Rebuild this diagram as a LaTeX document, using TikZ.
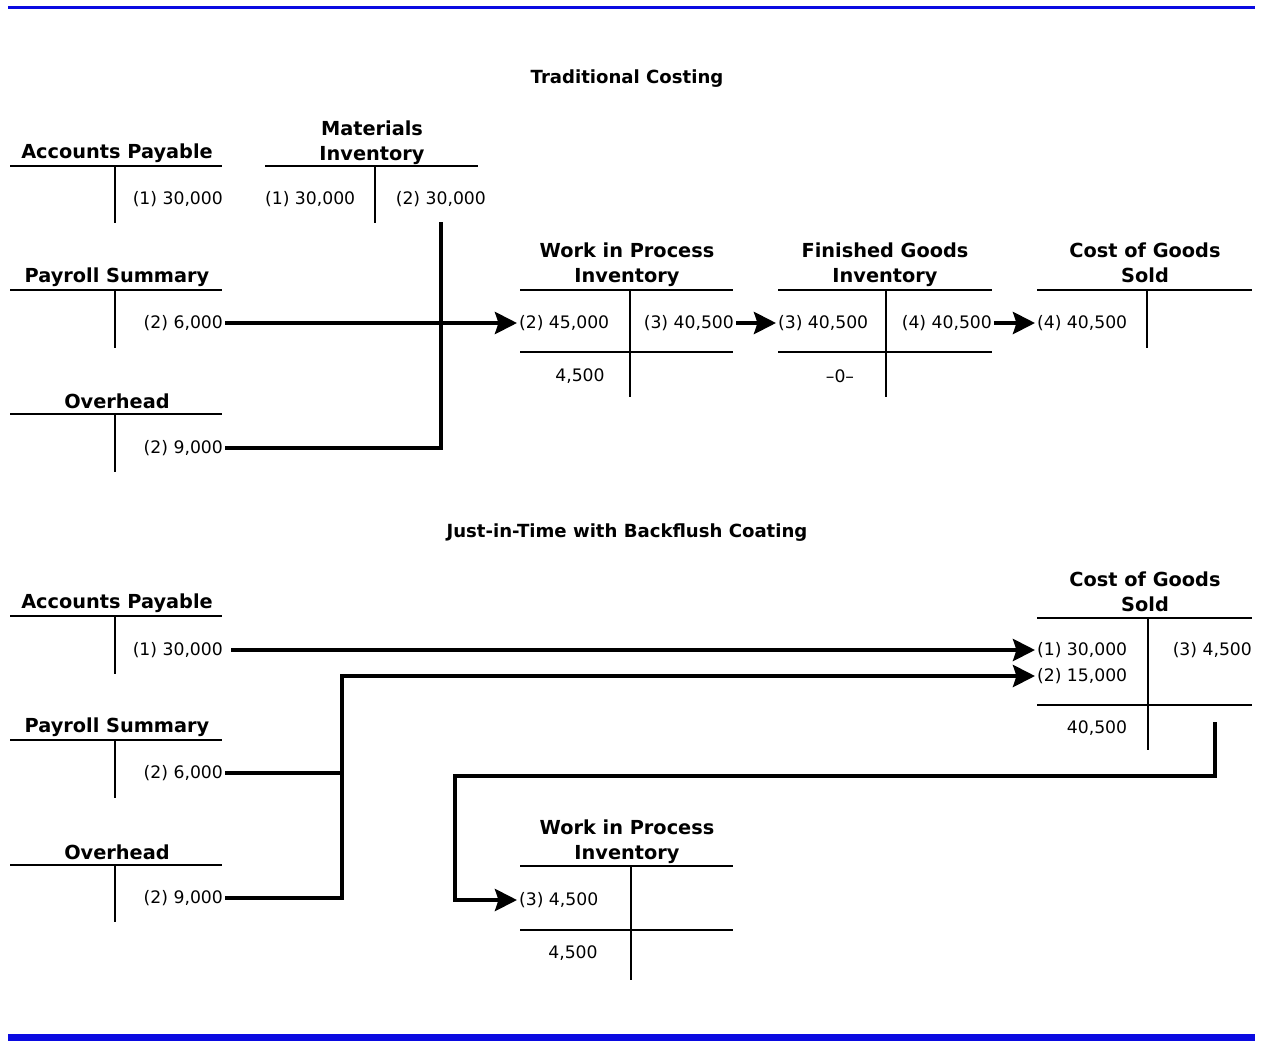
\documentclass[tikz,border=0pt]{standalone}
\usepackage{fontspec}
\setmainfont{DejaVu Sans}
\usetikzlibrary{arrows.meta}
\definecolor{rulebar}{RGB}{10,10,225}

\begin{document}
\begin{tikzpicture}[x=0.02cm,y=-0.02cm]
      \tikzset{head/.style={font=\fontsize{11}{14}\selectfont\bfseries, align=center, inner sep=0pt},
               part/.style={font=\fontsize{10.3}{13}\selectfont\bfseries, inner sep=0pt},
               entry/.style={font=\fontsize{9.8}{12}\selectfont, inner sep=1pt},
               tline/.style={line width=1.1pt},
               flow/.style={line width=2.4pt},
               into/.style={-{Stealth[length=0.44cm,width=0.44cm,inset=0.07cm]}}}
      \useasboundingbox (0,0) rectangle (1261,1041);
%% Rules
      \draw[rulebar, line width=1.7pt] (8,7.5) -- (1255,7.5);
      \fill[rulebar] (8,1034) rectangle (1255,1041);
%% Traditional costing
      \node[part] (trad) at (627,79) {Traditional Costing};
	%accounts
      	\node[head] (apT) at (117,153) {Accounts Payable};
      	\draw[tline] (10,166) -- (222,166) (115,166) -- (115,223);
      	\node[entry, anchor=east] (apT1) at (225,199) {(1) 30,000};

      	\node[head] (miT) at (372,143) {Materials\\Inventory};
      	\draw[tline] (265,166) -- (478,166) (375,166) -- (375,223);
      	\node[entry, anchor=west] (miT1) at (263,199) {(1) 30,000};
      	\node[entry, anchor=east] (miT2) at (488,199) {(2) 30,000};
      	\coordinate (miOut) at (441,222);

      	\node[head] (prT) at (117,277) {Payroll Summary};
      	\draw[tline] (10,290) -- (222,290) (115,290) -- (115,348);
      	\node[entry, anchor=east] (prT1) at (225,323) {(2) 6,000};

      	\node[head] (ohT) at (117,401) {Overhead};
      	\draw[tline] (10,414) -- (222,414) (115,414) -- (115,472);
      	\node[entry, anchor=east] (ohT1) at (225,448) {(2) 9,000};

      	\node[head] (wipT) at (627,265) {Work in Process\\Inventory};
      	\draw[tline] (520,290) -- (733,290) (630,290) -- (630,397) (520,352) -- (733,352);
      	\node[entry, anchor=west] (wipT1) at (517,323) {(2) 45,000};
      	\node[entry, anchor=east] (wipT2) at (736,323) {(3) 40,500};
      	\node[entry] (wipT3) at (580,376) {4,500};

      	\node[head] (fgT) at (885,265) {Finished Goods\\Inventory};
      	\draw[tline] (778,290) -- (992,290) (886,290) -- (886,397) (778,352) -- (992,352);
      	\node[entry, anchor=west] (fgT1) at (776,323) {(3) 40,500};
      	\node[entry, anchor=east] (fgT2) at (994,323) {(4) 40,500};
      	\node[entry] (fgT3) at (840,376) {--0--};

      	\node[head] (cgT) at (1145,263) {Cost of Goods\\Sold};
      	\draw[tline] (1037,290) -- (1252,290) (1147,290) -- (1147,348);
      	\node[entry, anchor=west] (cgT1) at (1035,323) {(4) 40,500};
	%flows
		\draw[flow, into] (prT1) -- (wipT1);
		\draw[flow] (ohT1) -| (miOut);
		\draw[flow, into] (wipT2) -- (fgT1);
		\draw[flow, into] (fgT2) -- (cgT1);
%% Just-in-time
      \node[part] (jit) at (627,533) {Just-in-Time with Backflush Coating};
	%accounts
      	\node[head] (apB) at (117,603) {Accounts Payable};
      	\draw[tline] (10,616) -- (222,616) (115,616) -- (115,674);
      	\node[entry, anchor=east] (apB1) at (225,650) {(1) 30,000};

      	\node[head] (prB) at (117,727) {Payroll Summary};
      	\draw[tline] (10,740) -- (222,740) (115,740) -- (115,798);
      	\node[entry, anchor=east] (prB1) at (225,773) {(2) 6,000};

      	\node[head] (ohB) at (117,852) {Overhead};
      	\draw[tline] (10,865) -- (222,865) (115,865) -- (115,922);
      	\node[entry, anchor=east] (ohB1) at (225,898) {(2) 9,000};

      	\node[head] (cgB) at (1145,592) {Cost of Goods\\Sold};
      	\draw[tline] (1037,618) -- (1252,618) (1148,618) -- (1148,750) (1037,705) -- (1252,705);
      	\node[entry, anchor=west] (cgB1) at (1035,650) {(1) 30,000};
      	\node[entry, anchor=west] (cgB2) at (1035,676) {(2) 15,000};
      	\node[entry, anchor=east] (cgB3) at (1254,650) {(3) 4,500};
      	\node[entry] (cgB4) at (1097,728) {40,500};
      	\coordinate (cgOut) at (1215,722);

      	\node[head] (wipB) at (627,842) {Work in Process\\Inventory};
      	\draw[tline] (520,866) -- (733,866) (631,866) -- (631,980) (520,930) -- (733,930);
      	\node[entry, anchor=west] (wipB1) at (517,900) {(3) 4,500};
      	\node[entry] (wipB2) at (573,953) {4,500};
	%flows
		\coordinate (jB) at (342,676);
		\coordinate (bendB) at (455,776);
		\draw[flow, into, shorten <=0.12cm] (apB1) -- (cgB1);
		\draw[flow] (prB1) -- (prB1 -| jB);
		\draw[flow, into] (ohB1) -| (jB) -- (cgB2);
		\draw[flow, into] (cgOut) |- (bendB) |- (wipB1);

\end{tikzpicture}
\end{document}
